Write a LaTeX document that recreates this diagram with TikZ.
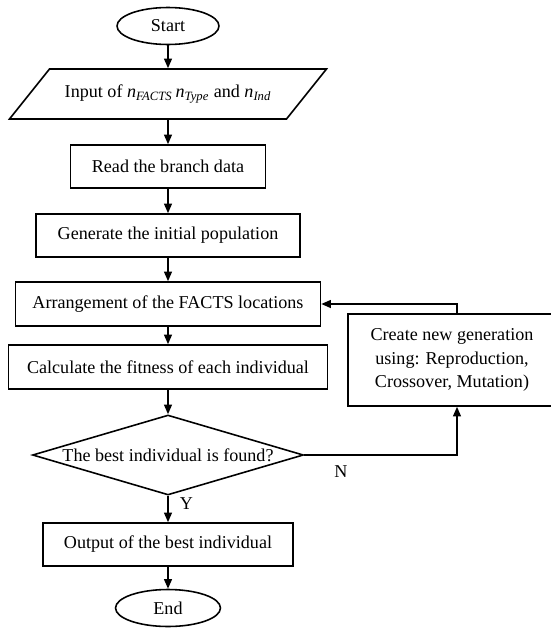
\documentclass[tikz,border=0pt]{standalone}
\usepackage{fontspec}
\setmainfont{Liberation Serif}
\usetikzlibrary{shapes.geometric,arrows.meta}
\tikzset{
  box/.style={draw,rectangle,minimum height=8.6mm,inner sep=2pt},
  term/.style={draw,ellipse,minimum height=7.4mm,inner sep=0pt},
  flow/.style={-{Triangle[length=5.5pt,width=4.5pt]}},
}
\newcommand{\nsub}[1]{{\itshape n}\textsubscript{\itshape #1}}
\begin{document}
\begin{tikzpicture}[x=0.02cm,y=-0.02cm,line width=0.9pt,font=\fontsize{10.3}{13.4}\selectfont]
  \useasboundingbox (0,0) rectangle (551,629);
  \node[term,minimum width=20.4mm] (start) at (168,26) {Start};
  \node[minimum height=10mm,inner sep=0pt] (input) at (168,94)
    {Input of \nsub{FACTS}\,\nsub{Type} and \nsub{Ind}};
  \draw (49.5,69) -- (326.5,69) -- (286.5,119) -- (9.5,119) -- cycle;
  \node[box,minimum width=39mm] (read) at (168,166.5) {Read the branch data};
  \node[box,minimum width=52.8mm] (gen) at (168,235.5) {Generate the initial population};
  \node[box,minimum width=61mm,minimum height=8.8mm] (arr) at (168,304)
    {Arrangement of the FACTS locations};
  \node[box,minimum width=63.8mm,minimum height=8.8mm] (calc) at (168,367)
    {Calculate the fitness of each individual};
  \node[draw,diamond,aspect=3.4,inner sep=0pt,minimum width=54.2mm,minimum height=16mm]
    (found) at (168,455) {The best individual is found?};
  \node[box,minimum width=50mm] (out) at (168,544.5) {Output of the best individual};
  \node[term,minimum width=21mm] (stop) at (168,608) {End};
  \node[box,align=center,minimum width=41.6mm,minimum height=18.4mm] (create) at (452,360)
    {Create new generation\\using: Reproduction,\\Crossover, Mutation)};
  \draw[flow] (start) -- (input);
  \draw[flow] (input) -- (read);
  \draw[flow] (read) -- (gen);
  \draw[flow] (gen) -- (arr);
  \draw[flow] (arr) -- (calc);
  \draw[flow] (calc) -- (found);
  \draw[flow] (found) -- node[pos=0.3,right=3pt]{Y} (out);
  \draw[flow] (out) -- (stop);
  \draw[flow] (found.east) -| node[pos=0.12,below=2pt]{N} ([xshift=1mm]create.south);
  \draw[flow] ([xshift=1mm]create.north) |- (arr.east);
\end{tikzpicture}
\end{document}
